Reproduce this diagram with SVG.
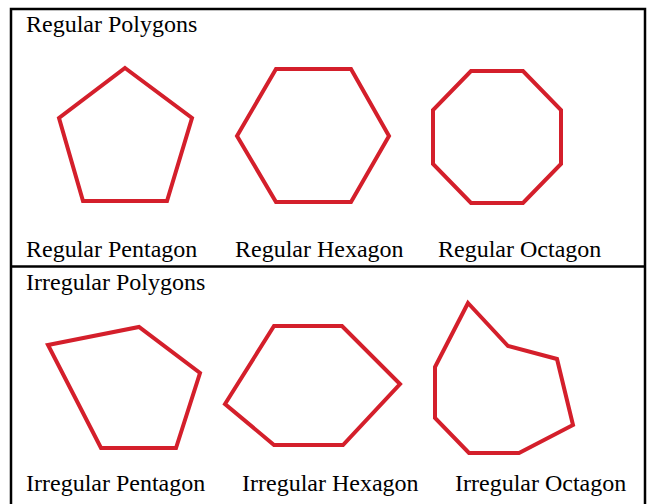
<svg xmlns="http://www.w3.org/2000/svg" width="647" height="504" viewBox="0 0 647 504">
<style>
.t{font-family:"Liberation Serif","Times New Roman",serif;font-size:24px;fill:#000}
.p{fill:none;stroke:#d41f2b;stroke-width:4;stroke-linejoin:miter}
.b{fill:none;stroke:#000;stroke-width:2.5}
</style>
<rect width="647" height="504" fill="#fff"/>
<g id="frame">
<rect class="b" x="11" y="9" width="634" height="500"/>
<line class="b" x1="11" y1="266.5" x2="645" y2="266.5"/>
</g>
<g id="regular-title"><text class="t" x="26" y="32">Regular Polygons</text></g>
<g id="regular-pentagon">
<polygon class="p" points="125,68 192,118 167,201 83,201 59,118"/>
<text class="t" x="26" y="257">Regular Pentagon</text>
</g>
<g id="regular-hexagon">
<polygon class="p" points="276,69 351,69 389,136 351,202 276,202 237,136"/>
<text class="t" x="235" y="257">Regular Hexagon</text>
</g>
<g id="regular-octagon">
<polygon class="p" points="471,71 523,71 561,110 561,164 523,203 471,203 433,164 433,110"/>
<text class="t" x="438" y="257">Regular Octagon</text>
</g>
<g id="irregular-title"><text class="t" x="26" y="290">Irregular Polygons</text></g>
<g id="irregular-pentagon">
<polygon class="p" points="48,345 139,327 200,373 176,448 101,448"/>
<text class="t" x="26" y="491">Irregular Pentagon</text>
</g>
<g id="irregular-hexagon">
<polygon class="p" points="274,326 342,326 400,384 343,445 274,445 225,404"/>
<text class="t" x="242" y="491">Irregular Hexagon</text>
</g>
<g id="irregular-octagon">
<polygon class="p" points="468,303 508,346 557,359 573,425 519,453 469,453 435,418 435,367"/>
<text class="t" x="455" y="491">Irregular Octagon</text>
</g>
</svg>
